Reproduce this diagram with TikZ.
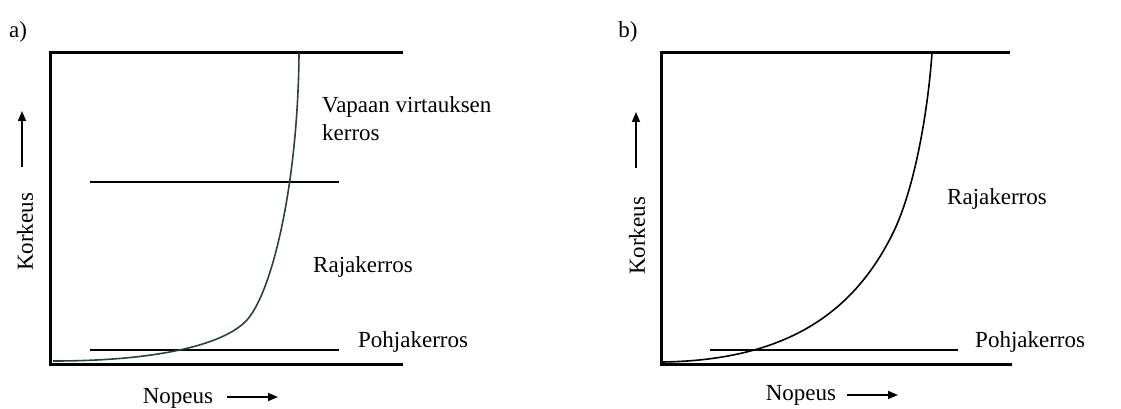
\documentclass[tikz,border=0pt]{standalone}
\usepackage{fontspec}
\setmainfont{Liberation Serif}
\usetikzlibrary{arrows.meta,positioning}
\definecolor{profcol}{RGB}{38,66,72}
\tikzset{
  wall/.style={line width=3pt},
  layerline/.style={line width=1.6pt},
  profile/.style={line width=1.6pt},
  lbl/.style={font=\fontsize{23}{28}\selectfont,inner sep=0pt},
  axArrow/.style={-{Triangle[length=10pt,width=8pt]},line width=1.6pt}
}

\begin{document}
\begin{tikzpicture}[x=1pt,y=-1pt]
  \useasboundingbox (0,0) rectangle (1121,409);

  % a) kolmikerroksinen
  \node[lbl] (taga) at (18,32) {a)};
  \coordinate (TLa) at (50,53);  \coordinate (TRa) at (403,53);
  \coordinate (BLa) at (50,364); \coordinate (BRa) at (403,364);
  \draw[wall] (TRa) -- (TLa) -- (BLa) -- (BRa);
  \coordinate (M1a) at (90,182); \coordinate (M2a) at (339,182);
  \coordinate (P1a) at (90,350); \coordinate (P2a) at (339,350);
  \draw[layerline] (M1a) -- (M2a) (P1a) -- (P2a);
  \coordinate (Ca0) at (53,361); \coordinate (Ca1) at (247,320);
  \coordinate (Ca2) at (299,53);
  \draw[profile,profcol] (Ca0) .. controls (160,361) and (225,344) .. (Ca1)
    .. controls (272,292) and (298,185) .. (Ca2);
  \node[lbl,anchor=west,align=left] (vapaa) at (322,119) {Vapaan virtauksen\\kerros};
  \node[lbl,anchor=west] (rajaa) at (313,267) {Rajakerros};
  \node[lbl,anchor=west] (pohjaa) at (358,342) {Pohjakerros};
  \node[lbl,rotate=90] (korkea) at (25,232) {Korkeus};
  \coordinate (ya0) at (22,167); \coordinate (ya1) at (22,111);
  \draw[axArrow] (ya0) -- (ya1);
  \node[lbl] (nopa) at (178,398) {Nopeus};
  \coordinate (xa0) at (227,397); \coordinate (xa1) at (278,397);
  \draw[axArrow] (xa0) -- (xa1);

  % b) kaksikerroksinen
  \node[lbl] (tagb) at (628,32) {b)};
  \coordinate (TLb) at (661,53);  \coordinate (TRb) at (1010,53);
  \coordinate (BLb) at (661,364); \coordinate (BRb) at (1012,364);
  \draw[wall] (TRb) -- (TLb) -- (BLb) -- (BRb);
  \coordinate (P1b) at (710,350); \coordinate (P2b) at (958,350);
  \draw[layerline] (P1b) -- (P2b);
  \coordinate (Cb0) at (663,362); \coordinate (Cb1) at (893,233);
  \coordinate (Cb2) at (932,53);
  \draw[profile] (Cb0) .. controls (790,360) and (855,310) .. (Cb1)
    .. controls (915,188) and (928,110) .. (Cb2);
  \node[lbl,anchor=west] (rajab) at (947,199) {Rajakerros};
  \node[lbl,anchor=west] (pohjab) at (975,342) {Pohjakerros};
  \node[lbl,rotate=90] (korkeb) at (637,236) {Korkeus};
  \coordinate (yb0) at (636,168); \coordinate (yb1) at (636,112);
  \draw[axArrow] (yb0) -- (yb1);
  \node[lbl] (nopb) at (801,395) {Nopeus};
  \coordinate (xb0) at (847,395); \coordinate (xb1) at (898,395);
  \draw[axArrow] (xb0) -- (xb1);
\end{tikzpicture}
\end{document}
